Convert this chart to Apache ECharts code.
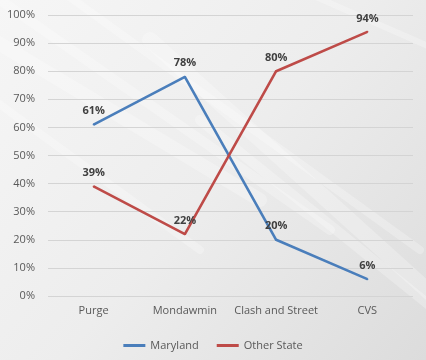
<!DOCTYPE html>
<html><head><meta charset="utf-8">
<script src="https://cdn.jsdelivr.net/npm/echarts@6/dist/echarts.min.js"></script>
<style>html,body{margin:0;padding:0;}#c{width:426px;height:360px;}</style>
</head><body><div id="c"></div>
<script>
const categories = ['Purge', 'Mondawmin', 'Clash and Street', 'CVS'];
const maryland = [61, 78, 20, 6];
const otherState = [39, 22, 80, 94];
const yTicks = [0, 10, 20, 30, 40, 50, 60, 70, 80, 90, 100];

const chart = echarts.init(document.getElementById('c'));
const font = 'Open Sans';
const streaks = [];
const sp = [[-40,20,260,200,14],[0,0,330,230,10],[60,-10,420,250,8],[150,40,460,320,16],[200,120,460,330,10],[-20,90,200,250,8],[300,-10,460,60,6]];
sp.forEach(s => streaks.push({type:'line', silent:true, z:-1, shape:{x1:s[0],y1:s[1],x2:s[2],y2:s[3]}, style:{stroke:'rgba(255,255,255,0.25)', lineWidth:s[4], lineCap:'round'}}));
const lbl = {show: true, position: 'top', distance: 7, formatter: p => p.value + '%', color: '#404040', fontWeight: 'bold', fontSize: 11, fontFamily: font, opacity: 1};
chart.setOption({
  backgroundColor: {type:'linear', x:0, y:0, x2:1, y2:1, colorStops:[{offset:0,color:'#f6f6f6'},{offset:0.5,color:'#ededed'},{offset:1,color:'#dcdcdc'}]},
  graphic: streaks,
  textStyle: {fontFamily: font},
  grid: {left: 48, right: 13, top: 15, bottom: 64},
  legend: {
    bottom: 4, left: 'center', itemWidth: 22, itemHeight: 3, itemGap: 18,
    icon: 'rect',
    textStyle: {color: '#595959', fontSize: 11, fontFamily: font},
    data: ['Maryland', 'Other State']
  },
  xAxis: {
    type: 'category', data: categories,
    axisLine: {show: false}, axisTick: {show: false},
    axisLabel: {interval: 0, color: '#595959', fontSize: 11, margin: 9, fontFamily: font}
  },
  yAxis: {
    type: 'value', min: 0, max: 100, interval: 10,
    axisLabel: {formatter: v => v + '%', color: '#595959', fontSize: 11, margin: 13, fontFamily: font},
    splitLine: {lineStyle: {color: '#d4d4d4', width: 1}},
    axisLine: {show: false}, axisTick: {show: false}
  },
  series: [
    {name: 'Maryland', type: 'line', data: maryland, symbol: 'circle', symbolSize: 2, showSymbol: true,
     itemStyle: {color: '#4a7ebb'},
     lineStyle: {width: 2.6, color: '#4a7ebb'}, label: lbl},
    {name: 'Other State', type: 'line', data: otherState, symbol: 'circle', symbolSize: 2, showSymbol: true,
     itemStyle: {color: '#be4b48'},
     lineStyle: {width: 2.6, color: '#be4b48'}, label: lbl}
  ],
  animation: false
});
</script></body></html>
